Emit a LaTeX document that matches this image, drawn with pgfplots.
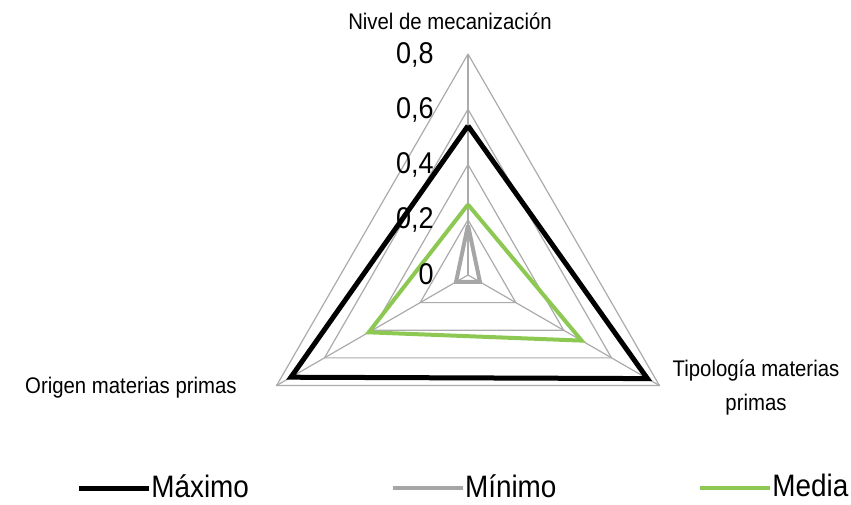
\documentclass[border=0pt]{standalone}
\usepackage{pgfplots}
\usepgfplotslibrary{polar}
\pgfplotsset{compat=1.18}
\usepackage{fontspec}
\setmainfont{Liberation Sans}[FakeStretch=0.9]

\definecolor{gridgray}{HTML}{ABABAB}
\definecolor{mingray}{HTML}{A6A6A6}
\definecolor{medgreen}{HTML}{8DC952}

\begin{document}
\begin{tikzpicture}[
    tlab/.style={anchor=base east, inner sep=0pt, font=\fontsize{15}{17}\selectfont,
                 xshift=-17pt, yshift=-4.5pt}]
\begin{polaraxis}[
    hide axis,
    clip=false,
    scale only axis,
    width=221pt,
    ymin=0, ymax=0.8,
    legend columns=3,
    legend style={
        at={(-0.387,0.02)}, anchor=west,
        draw=none, fill=none, inner sep=0pt,
        nodes={inner sep=0pt},
        font=\fontsize{15.5}{17}\selectfont,
        /tikz/every odd column/.style={column sep=0pt},
        /tikz/every even column/.style={column sep=71pt},
    },
    legend image code/.code={\draw[#1] (0pt,-0.05em) -- (35pt,-0.05em);},
]
    % rejilla triangular
    \pgfplotsinvokeforeach{0.2,0.4,0.6,0.8}{
        \addplot[gridgray, line width=0.6pt, forget plot]
            coordinates {(90,#1) (330,#1) (210,#1) (90,#1)};
    }
    \addplot[gridgray, line width=0.6pt, forget plot] coordinates {(90,0) (90,0.8)};
    \addplot[gridgray, line width=0.6pt, forget plot] coordinates {(210,0) (210,0.8)};
    \addplot[gridgray, line width=0.6pt, forget plot] coordinates {(330,0) (330,0.8)};

    % series
    \addplot[black, line width=2.5pt, line join=miter]
        coordinates {(90,0.54) (330,0.75) (210,0.74) (90,0.54)};
    \addplot[mingray, line width=2pt, line join=miter]
        coordinates {(90,0.18) (330,0.05) (210,0.05) (90,0.18)};
    \addplot[medgreen, line width=2pt, line join=miter]
        coordinates {(90,0.255) (330,0.475) (210,0.415) (90,0.255)};
    \legend{Máximo,Mínimo,Media}

    \coordinate (c) at (axis cs:0,0);
    \node[tlab] at (axis cs:90,0.8) {0,8};
    \node[tlab] at (axis cs:90,0.6) {0,6};
    \node[tlab] at (axis cs:90,0.4) {0,4};
    \node[tlab] at (axis cs:90,0.2) {0,2};
    \node[tlab] at (axis cs:90,0) {0};
\end{polaraxis}
\begin{scope}[every node/.style={inner sep=0pt, font=\fontsize{11.3}{13}\selectfont}]
    \node[anchor=base] at ([shift={(-9pt,122.9pt)}]c) {Nivel de mecanización};
    \node[anchor=base east] at ([shift={(-115.5pt,-59pt)}]c) {Origen materias primas};
    \node[anchor=base] at ([shift={(144pt,-50.9pt)}]c) {Tipología materias};
    \node[anchor=base] at ([shift={(144pt,-67.5pt)}]c) {primas};
\end{scope}
\pgfresetboundingbox
\path[use as bounding box] ([shift={(-234pt,137.5pt)}]c) rectangle ([shift={(191.5pt,-114.5pt)}]c);
\end{tikzpicture}
\end{document}
